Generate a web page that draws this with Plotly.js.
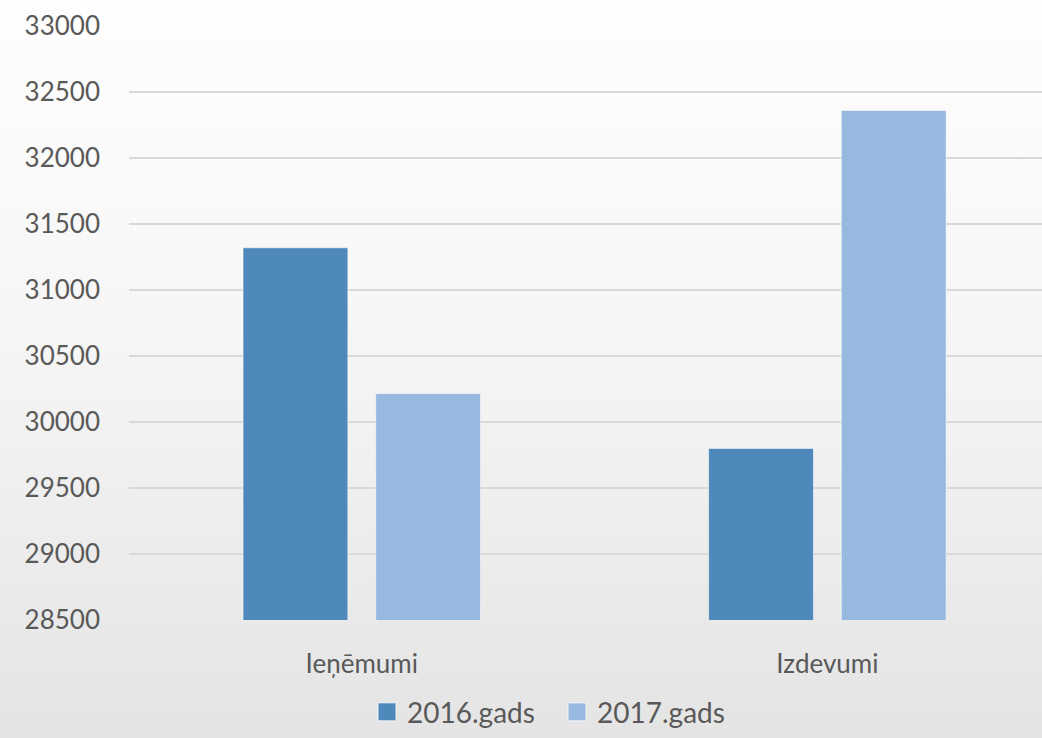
<!DOCTYPE html>
<html>
<head>
<meta charset="utf-8">
<script src="https://cdn.plot.ly/plotly-3.0.1.min.js"></script>
<style>
  html, body { margin: 0; padding: 0; }
  body { width: 1042px; height: 738px; background: linear-gradient(to bottom, #fefefe 0%, #f6f6f6 45%, #e4e4e4 100%); }
  #chart { width: 1042px; height: 738px; }
  #chart .legend .legendpoints path { transform: translate(20px, 0px) scale(1.5); }
</style>
</head>
<body>
<div id="chart"></div>
<script>
const categories = ["Ieņēmumi", "Izdevumi"];
const seriesNames = ["2016.gads", "2017.gads"];
const values2016 = [31320, 29800];
const values2017 = [30215, 32360];
const tickValues = [28500, 29000, 29500, 30000, 30500, 31000, 31500, 32000, 32500, 33000];

const colors = ["#4f89bc", "#97b9e0"];
const textColor = "#595959";
const fontFamily = "Lato, 'Open Sans', sans-serif";

const traces = [values2016, values2017].map((vals, i) => ({
  type: "bar",
  name: seriesNames[i],
  x: categories,
  y: vals,
  marker: { color: colors[i], line: { color: "rgba(255,255,255,0.55)", width: 1 } },
  hoverinfo: "x+y+name",
}));

const layout = {
  width: 1042,
  height: 738,
  margin: { l: 129, r: 0, t: 26, b: 118 },
  paper_bgcolor: "rgba(0,0,0,0)",
  plot_bgcolor: "rgba(0,0,0,0)",
  font: { family: fontFamily, size: 26, color: textColor },
  barmode: "group",
  bargap: 0.43,
  bargroupgap: 0.21,
  xaxis: {
    range: [-0.5, 1.461],
    showgrid: false,
    showline: false,
    zeroline: false,
    ticks: "",
    ticklabelstandoff: 26,
    tickfont: { family: fontFamily, size: 26, color: textColor },
  },
  yaxis: {
    range: [28500, 33000],
    tickvals: tickValues,
    ticktext: tickValues.map(String),
    showgrid: true,
    gridcolor: "#d9d9d9",
    gridwidth: 2,
    zeroline: false,
    showline: false,
    ticks: "",
    ticklabelstandoff: 28,
    tickfont: { family: fontFamily, size: 26, color: textColor },
  },
  showlegend: true,
  legend: {
    orientation: "h",
    x: 0.2607,
    xanchor: "left",
    y: -0.155,
    yanchor: "middle",
    entrywidth: 145,
    entrywidthmode: "pixels",
    font: { family: fontFamily, size: 28, color: textColor },
    itemwidth: 30,
    bgcolor: "rgba(0,0,0,0)",
  },
};

Plotly.newPlot("chart", traces, layout, { displayModeBar: false, responsive: false });
</script>
</body>
</html>
